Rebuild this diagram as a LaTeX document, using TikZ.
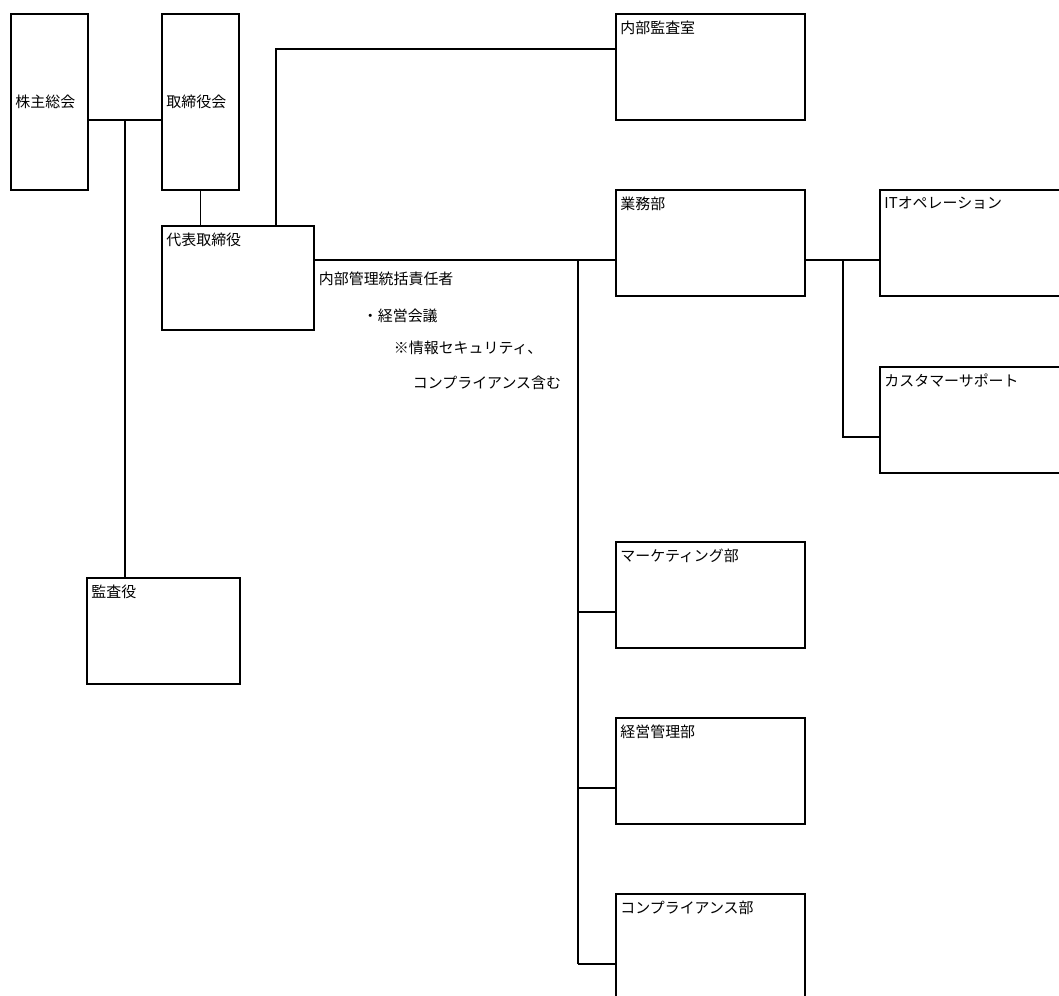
\documentclass[tikz,border=0pt]{standalone}
\usepackage{fontspec}
\usepackage{tikz}
\usetikzlibrary{positioning,calc}
\newfontfamily\jpfont{Noto Sans CJK JP}

\begin{document}
\begin{tikzpicture}[
	x=0.02cm, y=-0.02cm,
	line width=1.1pt,
	box/.style={ % khung chung
		draw=black,
		inner sep=0pt, outer sep=0pt,
		anchor=north west
	},
	tall/.style={ % khung cao (株主総会, 取締役会)
		box, minimum width=1.54cm, minimum height=3.52cm
	},
	dept/.style={ % khung phòng ban
		box, minimum width=3.78cm, minimum height=2.12cm
	},
	lbl/.style={ % chữ ở góc trên trái
		anchor=north west,
		inner xsep=2pt, inner ysep=3.2pt,
		font=\jpfont\fontsize{8.5}{10}\selectfont
	},
	memo/.style={ % ghi chú bên phải 代表取締役
		anchor=west, inner sep=0pt,
		font=\jpfont\fontsize{8.5}{10}\selectfont
	}
	]
	
	\useasboundingbox (0,0) rectangle (1059,996);
	\clip (0,0) rectangle (1059,996);
	
	% ================= CỘT TRÁI =================
	\node[tall, label={[lbl, anchor=west]west:株主総会}] (kabu) at (11,14) {};
	\node[tall, label={[lbl, anchor=west]west:取締役会}] (torishimari) at (162,14) {};
	\node[box, minimum width=3.04cm, minimum height=2.08cm,
		label={[lbl]north west:代表取締役}] (daihyo) at (162,226) {};
	\node[box, minimum width=3.06cm, minimum height=2.12cm,
		label={[lbl]north west:監査役}] (kansayaku) at (87,578) {};
	
	\coordinate (j1) at (125,120);
	\draw (kabu.east |- j1) -- (torishimari.west |- j1);
	\draw (j1) -- (j1 |- kansayaku.north);
	\draw (torishimari.south) -- (torishimari.south |- daihyo.north);
	
	% Ghi chú 内部管理統括責任者
	\foreach \x/\y/\t [count=\k] in {318/279/内部管理統括責任者, 362/316/・経営会議,
		393/348/※情報セキュリティ、, 412/383/コンプライアンス含む} {
		\node[memo] (memo\k) at (\x,\y) {\t};
	}
	
	% ================= CỘT GIỮA =================
	\foreach \n/\y/\t in {naibukansa/14/内部監査室, gyomu/190/業務部,
		marketing/542/マーケティング部, keiei/718/経営管理部, comp/894/コンプライアンス部} {
		\node[dept, label={[lbl]north west:\t}] (\n) at (616,\y) {};
		\coordinate (\n-in) at (616,\y+70);
	}
	
	\coordinate (j2) at (276,49);
	\draw (j2 |- daihyo.north) |- (naibukansa.west |- j2);
	
	\coordinate (j3) at (578,260);
	\draw (daihyo.east |- j3) -- (gyomu-in);
	\draw (j3) -- (j3 |- comp-in);
	\foreach \n in {marketing, keiei, comp} {
		\draw (j3 |- \n-in) -- (\n-in);
	}
	
	% ================= CỘT PHẢI =================
	\foreach \n/\y/\t in {itop/190/ITオペレーション, cs/367/カスタマーサポート} {
		\node[dept, label={[lbl]north west:\t}] (\n) at (880,\y) {};
		\coordinate (\n-in) at (880,\y+70);
	}
	
	\coordinate (j4) at (843,260);
	\draw (gyomu.east |- j4) -- (itop-in);
	\draw (j4) |- (cs-in);
	
\end{tikzpicture}
\end{document}
